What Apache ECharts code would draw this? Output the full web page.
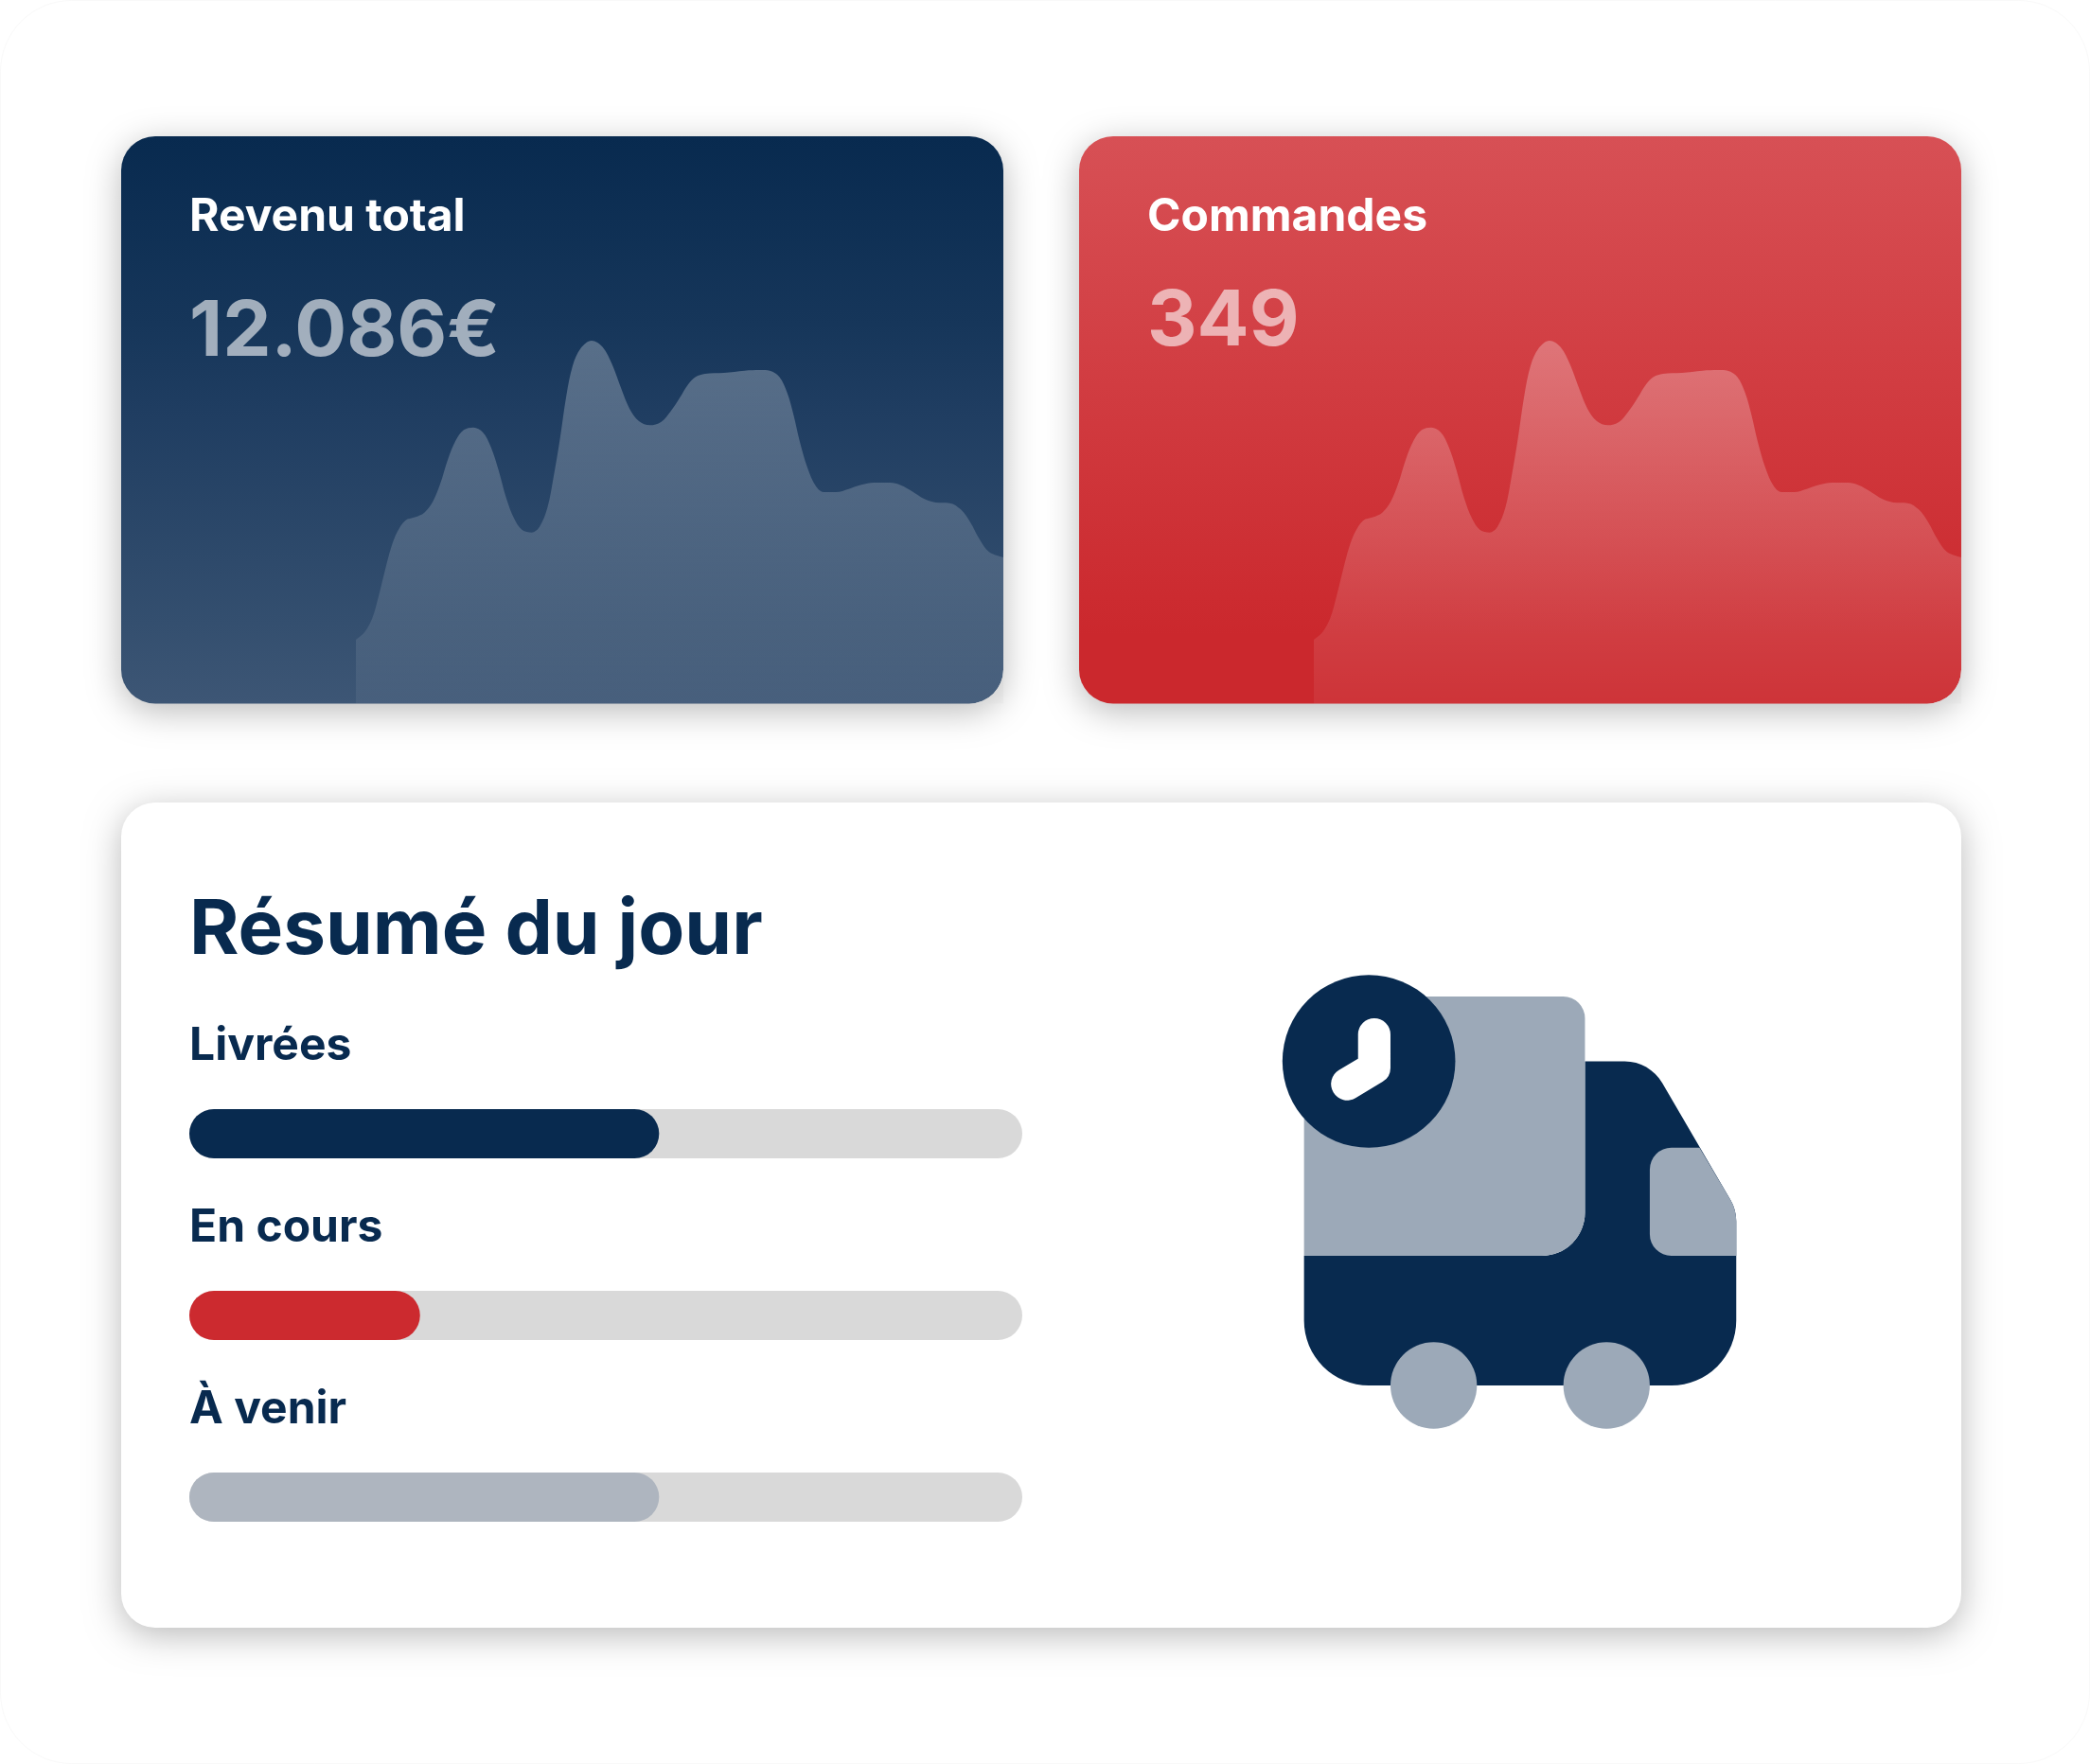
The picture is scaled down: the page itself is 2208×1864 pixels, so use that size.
<!DOCTYPE html>
<html>
<head>
<meta charset="utf-8">
<script src="https://cdn.jsdelivr.net/npm/echarts@6/dist/echarts.min.js"></script>
<style>html,body{margin:0;padding:0;background:#fff}#c{width:2208px;height:1864px}</style>
</head>
<body>
<div id="c"></div>
<script>
const trendPeriods = [0,1.32,2.53,3.51,4.48,5.46,6.43,7.65,9.11,10.57,11.89,13.01,14.23,15.45,16.67,18.13,19.59,20.81,22.03,23.24,24.46,25.68,27.14,28.36,29.58,30.55,31.53,32.5,33.48,34.7,36.4,38.11,39.57,41.03,42.25,43.71,45.42,47.12,48.58,50.05,51.26,52.48,53.94,56.87,60.04,62.47,63.93,65.4,66.61,67.59,68.56,69.78,71,72.22,74.17,76.12,78.07,80.01,82.45,84.16,85.86,87.81,89.52,91.71,93.42,94.88,96.34,97.8,100];
const revenueTrend = [11.27,12.55,15.05,18.94,23.39,27.56,30.34,32.28,32.84,33.67,35.62,38.68,43.12,46.46,48.24,48.68,47.85,45.35,41.18,36.17,32.56,30.61,30.17,31.17,34.51,40.07,46.74,54.24,59.53,62.58,63.97,62.86,59.8,55.36,52.02,49.8,49.07,49.63,51.46,53.97,56.19,57.58,58.14,58.3,58.69,58.8,58.69,57.58,54.8,50.91,46.18,41.46,38.4,37.29,37.29,37.84,38.56,38.95,38.95,38.51,37.45,36.06,35.45,35.34,34.23,32,28.95,26.72,25.78];
const ordersTrend = [11.27,12.55,15.05,18.94,23.39,27.56,30.34,32.28,32.84,33.67,35.62,38.68,43.12,46.46,48.24,48.68,47.85,45.35,41.18,36.17,32.56,30.61,30.17,31.17,34.51,40.07,46.74,54.24,59.53,62.58,63.97,62.86,59.8,55.36,52.02,49.8,49.07,49.63,51.46,53.97,56.19,57.58,58.14,58.3,58.69,58.8,58.69,57.58,54.8,50.91,46.18,41.46,38.4,37.29,37.29,37.84,38.56,38.95,38.95,38.51,37.45,36.06,35.45,35.34,34.23,32,28.95,26.72,25.78];
const statusLabels = ['Livrées','En cours','À venir'];
const statusValues = [56.4,27.7,56.4];
const trackValues = [100,100,100];
const statusColors = ['#082A4F','#CC2A2F','#AEB5BF'];

const FONT = 'Inter';
const NAVY = '#082A4F';
const LIGHT = '#9CA9B8';
const SHADOW = {shadowBlur:36, shadowOffsetX:0, shadowOffsetY:8, shadowColor:'rgba(0,0,0,0.27)'};
const zip = (a,b)=>a.map((v,i)=>[v,b[i]]);

function shapeFrom(name,pathData){
  echarts.graphic.registerShape(name,echarts.graphic.extendPath(pathData,{}));
  return name;
}
shapeFrom('truckBody','M2 14H13A2 2 0 0 0 15 12V5H16.84C17.56 5 18.2 5.38 18.58 6L21.73 11.4C21.91 11.7 22 12.05 22 12.4V17A3 3 0 0 1 19 20H5A3 3 0 0 1 2 17Z');
shapeFrom('truckBox','M5 5L7.65 2H14A1 1 0 0 1 15 3V12A2 2 0 0 1 13 14H2V7.65Z');
shapeFrom('truckWindow','M20.3 9H19A1 1 0 0 0 18 10V13A1 1 0 0 0 19 14H22V12.4C22 12.05 21.91 11.7 21.73 11.4Z');
shapeFrom('cornerMaskA','M1060 707.5L1060 743.5L1024 743.5A36 36 0 0 0 1060 707.5Z');
shapeFrom('cornerMaskB','M2072 707.5L2072 743.5L2036 743.5A36 36 0 0 0 2072 707.5Z');

function txt(text,x,baseline,size,weight,fill,opacity){
  return {type:'text',z:20,silent:true,x:x,y:baseline-1-0.285*size,
    style:{text:text,fontFamily:FONT,fontSize:size,fontWeight:weight,fill:fill,opacity:opacity==null?1:opacity,align:'left',verticalAlign:'middle'}};
}
function card(x,y,w,h,fill){
  return {type:'rect',z:-5,silent:true,shape:{x:x,y:y,width:w,height:h,r:36},
    style:Object.assign({fill:fill},SHADOW)};
}
function vgrad(stops){return {type:'linear',x:0,y:0,x2:0,y2:1,colorStops:stops};}
function cornerMask(name,cx,cy,r){
  return {type:name,z:15,silent:true,
    style:{fill:{type:'radial',x:cx,y:cy,r:r*1.45,global:true,colorStops:[{offset:0,color:'#dadada'},{offset:0.69,color:'#dadada'},{offset:1,color:'#ececec'}]}}};
}
function areaSeries(xi,data){
  return {type:'line',xAxisIndex:xi,yAxisIndex:xi,data:zip(trendPeriods,data),smooth:0.35,symbol:'none',silent:true,
    lineStyle:{width:0},areaStyle:{origin:'start',opacity:1,color:vgrad([{offset:0,color:'rgba(255,255,255,0.28)'},{offset:1,color:'rgba(255,255,255,0.055)'}])},z:3};
}
const truckIcon={type:'group',x:1332,y:1007.4,scaleX:22.83,scaleY:22.83,silent:true,children:[
  {type:'truckBody',z:10,style:{fill:NAVY}},
  {type:'truckBox',z:11,style:{fill:LIGHT}},
  {type:'truckWindow',z:11,style:{fill:LIGHT}},
  {type:'circle',z:11,shape:{cx:8,cy:20,r:2},style:{fill:LIGHT}},
  {type:'circle',z:11,shape:{cx:16,cy:20,r:2},style:{fill:LIGHT}},
  {type:'circle',z:12,shape:{cx:5,cy:5,r:4},style:{fill:NAVY}},
  {type:'polyline',z:13,shape:{points:[[5.25,3.75],[5.25,5.3],[4,6.05]]},style:{stroke:'#fff',fill:null,lineWidth:1.5,lineCap:'round',lineJoin:'round'}}
]};
const BAR_BASE=[1120,1312,1504];
const graphic=[
  {type:'rect',z:-10,silent:true,shape:{x:0.5,y:0.5,width:2207,height:1863,r:75},style:{fill:'#fff',stroke:'#f9f9f9',lineWidth:1}},
  card(128,144,932,599.5,vgrad([{offset:0,color:'#082A4F'},{offset:0.33,color:'#16365A'},{offset:0.48,color:'#1F3D61'},{offset:0.86,color:'#344F6F'},{offset:1,color:'#3D5675'}])),
  card(1140,144,932,599.5,vgrad([{offset:0,color:'#D75055'},{offset:0.88,color:'#CB282D'},{offset:1,color:'#CB282D'}])),
  card(128,848,1944,872,'#fff'),
  cornerMask('cornerMaskA',1024,707.5,36),
  cornerMask('cornerMaskB',2036,707.5,36),
  txt('Revenu total',200,244,48,700,'#fff'),
  txt('12.086€',200,376,81.5,700,'#fff',0.6),
  txt('Commandes',1212,244,48,700,'#fff'),
  txt('349',1212,364.5,81.5,700,'#fff',0.6),
  txt('Résumé du jour',200,1007.5,80,700,NAVY),
  ...statusLabels.map((s,i)=>txt(s,200,BAR_BASE[i],48,700,NAVY)),
  truckIcon
];
const chart=echarts.init(document.getElementById('c'),null,{renderer:'canvas',width:2208,height:1864});
chart.setOption({
  animation:false,
  backgroundColor:'#fff',
  grid:[
    {left:376,top:144,width:684,height:599.5},
    {left:1388,top:144,width:684,height:599.5},
    {left:200,top:1102,width:880,height:576}
  ],
  xAxis:[
    {type:'value',gridIndex:0,min:0,max:100,show:false},
    {type:'value',gridIndex:1,min:0,max:100,show:false},
    {type:'value',gridIndex:2,min:0,max:100,show:false}
  ],
  yAxis:[
    {type:'value',gridIndex:0,min:0,max:100,show:false},
    {type:'value',gridIndex:1,min:0,max:100,show:false},
    {type:'category',gridIndex:2,data:statusLabels,inverse:true,show:false}
  ],
  series:[
    areaSeries(0,revenueTrend),
    areaSeries(1,ordersTrend),
    {type:'bar',xAxisIndex:2,yAxisIndex:2,data:trackValues,barWidth:52,barGap:'-100%',silent:true,z:3,
      itemStyle:{color:'#D9D9D9',borderRadius:26}},
    {type:'bar',xAxisIndex:2,yAxisIndex:2,barWidth:52,barGap:'-100%',silent:true,z:4,
      data:statusValues.map((v,i)=>({value:v,itemStyle:{color:statusColors[i],borderRadius:26}}))}
  ],
  graphic:graphic
});
</script>
</body>
</html>
